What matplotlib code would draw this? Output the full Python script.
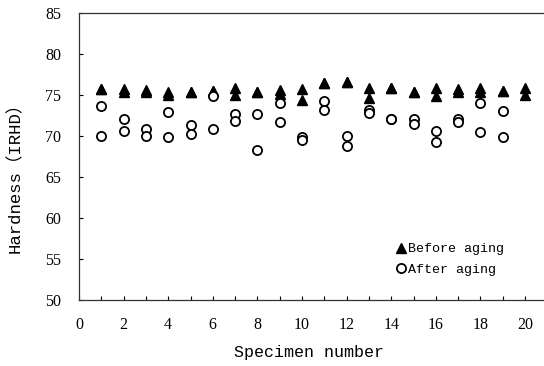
import matplotlib
matplotlib.use("Agg")
import matplotlib.pyplot as plt
from matplotlib.ticker import MultipleLocator

specimens_before = [1, 1, 2, 2, 3, 3, 4, 4, 5, 5, 6, 6, 7, 7, 8, 8, 9, 9, 10, 10,
                    11, 11, 12, 12, 13, 13, 14, 14, 15, 15, 16, 16, 17, 17, 18, 18,
                    19, 19, 20, 20]
before_aging = [75.7, 75.7, 75.7, 75.3, 75.6, 75.3, 75.3, 75.0, 75.4, 75.4,
                75.5, 75.5, 75.8, 75.0, 75.4, 75.4, 75.6, 75.1, 75.7, 74.4,
                76.4, 76.4, 76.5, 76.5, 75.8, 74.6, 75.8, 75.8, 75.3, 75.3,
                75.8, 74.9, 75.7, 75.3, 75.8, 75.4, 75.5, 75.5, 75.8, 75.0]

specimens_after = [1, 1, 2, 2, 3, 3, 4, 4, 5, 5, 6, 6, 7, 7, 8, 8, 9, 9, 10, 10,
                   11, 11, 12, 12, 13, 13, 14, 14, 15, 15, 16, 16, 17, 17, 18, 18,
                   19, 19]
after_aging = [73.6, 70.0, 72.05, 70.6, 70.8, 70.0, 72.9, 69.9, 71.3, 70.2,
               74.9, 70.8, 72.6, 71.85, 72.6, 68.3, 74.0, 71.7, 69.8, 69.5,
               74.2, 73.1, 70.0, 68.8, 73.1, 72.8, 72.0, 72.0, 72.1, 71.4,
               70.6, 69.2, 72.0, 71.7, 74.0, 70.5, 73.0, 69.8]

x_ticks = list(range(0, 21, 2))
y_ticks = [50, 55, 60, 65, 70, 75, 80, 85]

fig = plt.figure(figsize=(5.44, 3.66), dpi=100)
ax = fig.add_axes([79 / 544, 1 - 300 / 366, 468.3 / 544, 287.3 / 366])

ax.plot(specimens_before, before_aging, linestyle="none", marker="^",
        markersize=7.4, color="black", label="Before aging")
ax.plot(specimens_after, after_aging, linestyle="none", marker="o",
        markersize=6.6, markerfacecolor="white", markeredgecolor="black",
        markeredgewidth=1.3, label="After aging")

ax.set_xlim(0, 21)
ax.set_ylim(50, 85)
ax.set_xticks(x_ticks)
ax.xaxis.set_minor_locator(MultipleLocator(1))
ax.set_yticks(y_ticks)
ax.tick_params(axis="both", which="both", direction="in", length=3, width=0.8,
               labelsize=11.5)
ax.tick_params(axis="x", which="major", pad=12.5)
ax.tick_params(axis="y", which="major", pad=13)
for lab in ax.get_xticklabels() + ax.get_yticklabels():
    lab.set_fontfamily("Liberation Serif")

ax.spines["right"].set_visible(False)
for s in ["left", "top", "bottom"]:
    ax.spines[s].set_linewidth(0.9)
    ax.spines[s].set_color("#333333")

ax.set_xlabel("Specimen number", fontsize=12,
              family=["Liberation Mono", "Noto Sans CJK SC"])
ax.set_ylabel("Hardness（IRHD）", fontsize=12.5,
              family=["Liberation Mono", "Noto Sans CJK SC"])
ax.xaxis.set_label_coords(0.491, -0.155)
ax.yaxis.set_label_coords(-0.12, 0.442)

leg = ax.legend(loc="upper left", bbox_to_anchor=(0.662, 0.217), frameon=False,
                handletextpad=0.0, handlelength=1.0, borderaxespad=0,
                labelspacing=0.6, prop={"family": "Liberation Mono", "size": 9.6})

fig.savefig("out.png", dpi=100)
